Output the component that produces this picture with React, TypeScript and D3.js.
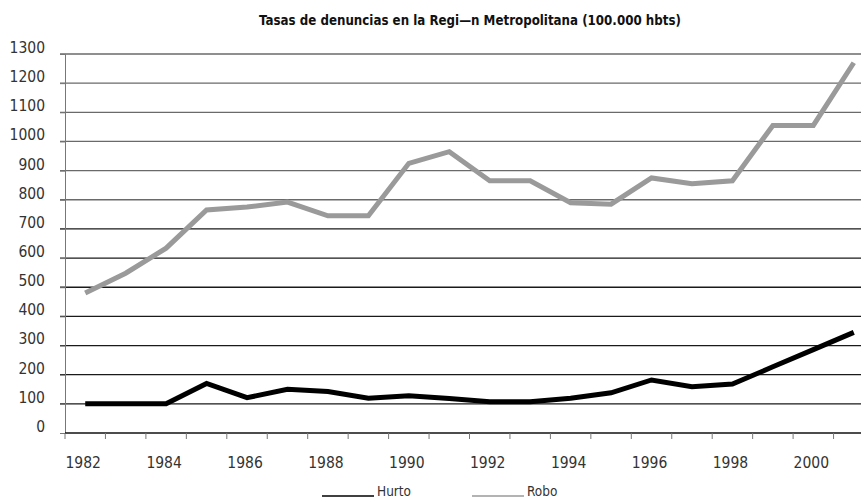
import React, { useEffect, useRef } from 'react';
import * as d3 from 'd3';

const years = ['1982', '1983', '1984', '1985', '1986', '1987', '1988', '1989', '1990', '1991',
  '1992', '1993', '1994', '1995', '1996', '1997', '1998', '1999', '2000', '2001'];
const tickYears = ['1982', '1984', '1986', '1988', '1990', '1992', '1994', '1996', '1998', '2000'];
const hurto = [100, 100, 100, 170, 121, 150, 142, 119, 128, 118,
  107, 107, 119, 138, 182, 159, 168, 227, 286, 345];
const robo = [480, 548, 634, 765, 775, 792, 745, 745, 925, 965,
  865, 865, 790, 785, 875, 855, 865, 1055, 1055, 1270];
const yTicks = [0, 100, 200, 300, 400, 500, 600, 700, 800, 900, 1000, 1100, 1200, 1300];

const FONT = "'DejaVu Sans Condensed', 'Liberation Sans Narrow', 'Open Sans', sans-serif";

export default function App() {
  const width = 861;
  const height = 500;
  const ref = useRef<SVGSVGElement>(null);

  useEffect(() => {
    if (!ref.current) return;
    const svg = d3.select(ref.current);
    svg.selectAll('*').remove();

    const x = d3.scaleBand().domain(years).range([65, 874]).padding(0);
    const y = d3.scaleLinear().domain([0, 1300]).range([433, 54]);

    // title
    svg.append('text')
      .attr('x', 470)
      .attr('y', 25)
      .attr('text-anchor', 'middle')
      .attr('font-family', FONT)
      .attr('font-weight', 'bold')
      .attr('font-size', 13.2)
      .attr('fill', '#111')
      .text('Tasas de denuncias en la Regi\u2014n Metropolitana (100.000 hbts)');

    // gridlines
    svg.append('g')
      .selectAll('line')
      .data(yTicks.filter(d => d > 0))
      .enter()
      .append('line')
      .attr('x1', 60)
      .attr('x2', width)
      .attr('y1', d => y(d))
      .attr('y2', d => y(d))
      .attr('stroke', d => (d >= 800 ? '#6a6a6a' : '#1a1a1a'))
      .attr('stroke-width', 1.3);

    // y axis
    const yAxis = d3.axisLeft(y).tickValues(yTicks).tickSize(5).tickFormat(d => String(d));
    const gy = svg.append('g').attr('transform', 'translate(65,0)').call(yAxis);
    gy.select('.domain').attr('stroke', '#777');
    gy.selectAll('.tick line').attr('stroke', '#777');
    gy.selectAll('.tick text')
      .attr('x', -20)
      .attr('dy', '-0.1em')
      .attr('font-family', FONT)
      .attr('font-size', 15.5)
      .attr('fill', '#333');

    // x axis
    svg.append('line')
      .attr('x1', 65).attr('x2', width)
      .attr('y1', y(0)).attr('y2', y(0))
      .attr('stroke', '#111').attr('stroke-width', 1.5);
    const bounds = years.map(d => x(d) as number).concat([x.range()[1]]);
    svg.append('g')
      .selectAll('line')
      .data(bounds)
      .enter()
      .append('line')
      .attr('x1', d => d).attr('x2', d => d)
      .attr('y1', y(0)).attr('y2', y(0) + 6)
      .attr('stroke', '#777');
    svg.append('g')
      .selectAll('text')
      .data(tickYears)
      .enter()
      .append('text')
      .attr('x', d => (x(d) as number) + x.bandwidth() / 2 - 2)
      .attr('y', 468)
      .attr('text-anchor', 'middle')
      .attr('font-family', FONT)
      .attr('font-size', 15.5)
      .attr('fill', '#333')
      .text(d => d);

    const line = d3.line<number>()
      .x((d, i) => (x(years[i]) as number) + x.bandwidth() / 2)
      .y(d => y(d));

    svg.append('path')
      .datum(robo)
      .attr('fill', 'none')
      .attr('stroke', '#9a9a9a')
      .attr('stroke-width', 5)
      .attr('d', line);

    svg.append('path')
      .datum(hurto)
      .attr('fill', 'none')
      .attr('stroke', '#000')
      .attr('stroke-width', 5)
      .attr('d', line);

    // legend
    const legend = [
      { name: 'Hurto', color: '#000', x: 322 },
      { name: 'Robo', color: '#9a9a9a', x: 472 },
    ];
    const lg = svg.append('g').selectAll('g').data(legend).enter().append('g');
    lg.append('line')
      .attr('x1', d => d.x).attr('x2', d => d.x + 52)
      .attr('y1', 496).attr('y2', 496)
      .attr('stroke', d => d.color)
      .attr('stroke-width', 1.5);
    lg.append('text')
      .attr('x', d => d.x + 55)
      .attr('y', 496)
      .attr('font-family', FONT)
      .attr('font-size', 13.5)
      .attr('fill', '#333')
      .text(d => d.name);
  }, []);

  return (
    <svg
      ref={ref}
      width={width}
      height={height}
      style={{ position: 'absolute', left: 0, top: 0, background: '#fff' }}
    />
  );
}
